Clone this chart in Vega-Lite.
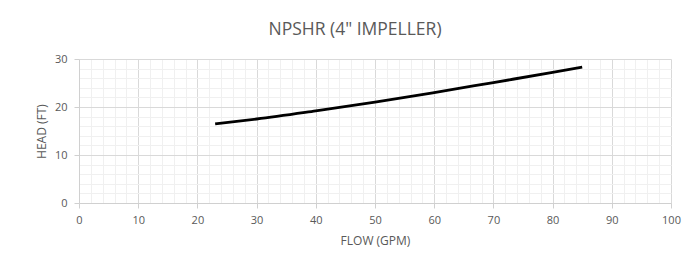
{
  "$schema": "https://vega.github.io/schema/vega-lite/v6.json",
  "width": 592,
  "height": 144,
  "autosize": {"type": "none"},
  "padding": {"left": 79, "top": 59, "right": 12, "bottom": 63},
  "background": "white",
  "title": {
    "text": "NPSHR (4\" IMPELLER)",
    "anchor": "middle",
    "frame": "group",
    "dx": -20,
    "offset": 15,
    "font": "Open Sans",
    "fontSize": 17.5,
    "fontWeight": "normal",
    "color": "#595959"
  },
  "config": {
    "view": {"stroke": null},
    "axis": {
      "labelFont": "Open Sans",
      "labelFontSize": 11,
      "labelColor": "#595959",
      "titleFont": "Open Sans",
      "titleFontSize": 12,
      "titleFontWeight": "normal",
      "titleColor": "#595959",
      "domainColor": "#d0d0d0",
      "tickColor": "#d0d0d0",
      "tickSize": 5,
      "labelOverlap": false,
      "labelFlush": false
    }
  },
  "data": {
    "values": [
      {"flow": 23, "head": 16.5},
      {"flow": 30, "head": 17.5},
      {"flow": 40, "head": 19.2},
      {"flow": 50, "head": 21.0},
      {"flow": 60, "head": 23.0},
      {"flow": 70, "head": 25.1},
      {"flow": 80, "head": 27.2},
      {"flow": 85, "head": 28.3}
    ]
  },
  "mark": {"type": "line", "color": "#000000", "strokeWidth": 2.8, "interpolate": "monotone", "strokeCap": "butt"},
  "encoding": {
    "x": {
      "field": "flow",
      "type": "quantitative",
      "scale": {"domain": [0, 100], "nice": false, "zero": false},
      "axis": {
        "title": "FLOW (GPM)",
        "titlePadding": 10,
        "labelPadding": 6,
        "values": [0,2,4,6,8,10,12,14,16,18,20,22,24,26,28,30,32,34,36,38,40,42,44,46,48,50,52,54,56,58,60,62,64,66,68,70,72,74,76,78,80,82,84,86,88,90,92,94,96,98,100],
        "labelExpr": "datum.value % 10 === 0 ? datum.label : ''",
        "gridColor": {"condition": {"test": "datum.value % 10 === 0", "value": "#d9d9d9"}, "value": "#f0f0f0"},
        "tickOpacity": {"condition": {"test": "datum.value % 10 === 0", "value": 1}, "value": 0}
      }
    },
    "y": {
      "field": "head",
      "type": "quantitative",
      "scale": {"domain": [0, 30], "nice": false},
      "axis": {
        "title": "HEAD (FT)",
        "titlePadding": 6,
        "labelPadding": 7,
        "values": [0,2,4,6,8,10,12,14,16,18,20,22,24,26,28,30],
        "labelExpr": "datum.value % 10 === 0 ? datum.label : ''",
        "gridColor": {"condition": {"test": "datum.value % 10 === 0", "value": "#d9d9d9"}, "value": "#f0f0f0"},
        "tickOpacity": {"condition": {"test": "datum.value % 10 === 0", "value": 1}, "value": 0}
      }
    }
  }
}
